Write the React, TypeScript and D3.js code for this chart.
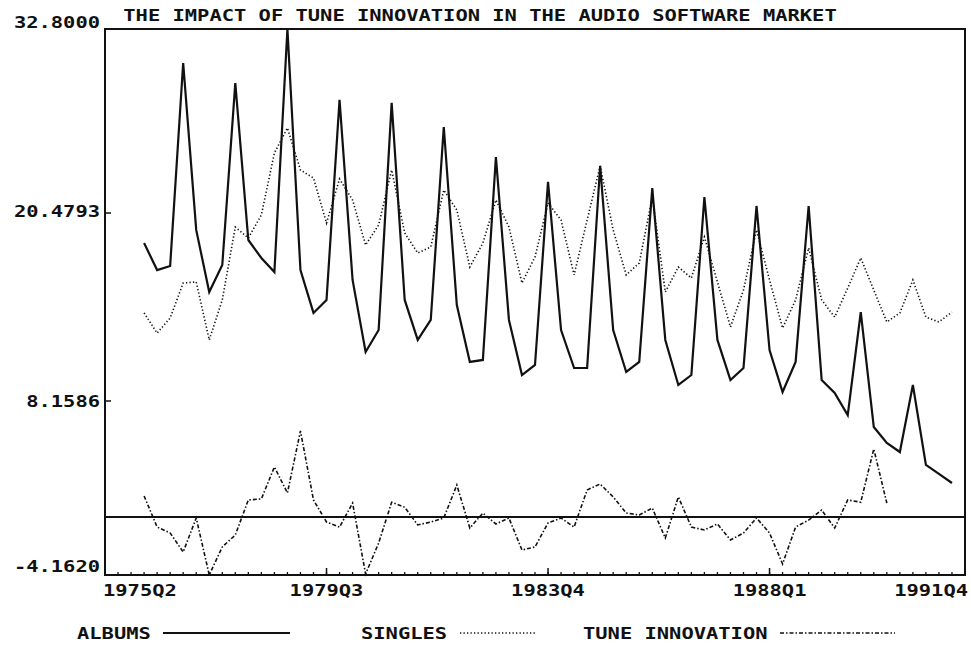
import React from "react";
import * as d3 from "d3";

const TITLE = "THE IMPACT OF TUNE INNOVATION IN THE AUDIO SOFTWARE MARKET";
const FIRST_QUARTER = "1975Q2";
const LAST_QUARTER = "1991Q4";
const SERIES_START = "1976Q1";
const xTickLabels = ["1975Q2", "1979Q3", "1983Q4", "1988Q1", "1991Q4"];
const yTickValues = [32.8, 20.4793, 8.1586, -4.162];
const yTickLabels = ["32.8000", "20.4793", "8.1586", "-4.1620"];
const legendLabels = ["ALBUMS", "SINGLES", "TUNE INNOVATION"];

// quarterly values starting at SERIES_START
const albums = [
  18.51, 16.74, 17.01, 30.52, 19.37, 15.3, 17.07, 29.18, 18.71, 17.53, 16.61, 32.8,
  16.74, 13.93, 14.78, 28.05, 16.09, 11.37, 12.81, 27.85, 14.78, 12.16, 13.47, 26.24,
  14.45, 10.72, 10.85, 24.23, 13.47, 9.86, 10.52, 22.56, 12.81, 10.32, 10.32, 23.63,
  12.81, 10.06, 10.72, 22.15, 12.16, 9.21, 9.86, 21.55, 12.16, 9.53, 10.32, 20.95,
  11.5, 8.75, 10.72, 20.95, 9.53, 8.69, 7.17, 13.99, 6.33, 5.21, 4.57, 9.21,
  3.66, 3.03, 2.39,
];
const singles = [
  13.93, 12.61, 13.6, 15.89, 15.96, 12.16, 14.78, 19.56, 18.84, 20.35, 24.5, 26.17,
  23.36, 22.82, 19.82, 22.76, 21.35, 18.38, 19.69, 23.36, 19.17, 17.86, 18.25, 22.02,
  20.68, 16.94, 18.51, 21.35, 19.56, 15.89, 17.6, 21.15, 20.02, 16.42, 20.02, 23.63,
  19.37, 16.42, 17.2, 21.55, 15.3, 16.94, 16.22, 18.91, 15.96, 13.01, 15.43, 19.37,
  16.09, 12.94, 14.78, 18.19, 14.78, 13.66, 15.56, 17.53, 15.43, 13.34, 13.93, 16.09,
  13.66, 13.34, 13.99,
];
const tuneInnovation = [
  1.48, -0.72, -1.15, -2.51, -0.07, -4.162, -2.15, -1.29, 1.2, 1.27, 3.52, 1.69,
  6.05, 1.2, -0.36, -0.72, 0.98, -4.09, -1.87, 1.04, 0.69, -0.57, -0.36, -0.07,
  2.25, -0.79, 0.28, -0.5, -0.07, -2.37, -2.15, -0.43, -0.07, -0.72, 1.9, 2.32,
  1.41, 0.28, 0.14, 0.63, -1.51, 1.41, -0.72, -0.93, -0.5, -1.65, -1.15, -0.07,
  -1.15, -3.37, -0.72, -0.22, 0.49, -0.79, 1.2, 1.04, 4.78, 0.98,
];

function qIndex(q: string): number {
  const yr = +q.slice(0, 4);
  const n = +q.slice(5);
  return yr * 4 + n - 1;
}

const FONT = "'DejaVu Sans Mono', 'Liberation Mono', monospace";
const CHAR_W = 12.3;

function Txt(props: { x: number; y: number; s: string; anchor?: string }) {
  const { x, y, s, anchor = "start" } = props;
  return (
    <text
      x={x}
      y={y}
      textAnchor={anchor}
      dominantBaseline="central"
      fontFamily={FONT}
      fontWeight="bold"
      fontSize={16}
      textLength={s.length * CHAR_W}
      lengthAdjust="spacingAndGlyphs"
      fill="#111"
    >
      {s}
    </text>
  );
}

export default function App() {
  const W = 971;
  const H = 645;
  const left = 105;
  const right = 965;
  const top = 29;
  const bottom = 575;

  const q0 = qIndex(FIRST_QUARTER);
  const nQ = qIndex(LAST_QUARTER) - q0;
  const start = qIndex(SERIES_START) - q0;

  const x = d3.scaleLinear().domain([0, nQ]).range([left, right]);
  const y = d3
    .scaleLinear()
    .domain([yTickValues[0], yTickValues[1], yTickValues[2], 0, yTickValues[3]])
    .range([top, 213, 401, 517, bottom]);

  const line = d3
    .line<number>()
    .x((_, i) => x(start + i))
    .y((d) => y(d));

  const minorTicks = d3.range(0, nQ + 1);
  const majorIdx = xTickLabels.map((l) => qIndex(l) - q0);
  const yLabelOffsets = [-7, -2, 0, -9];

  const blackDots = "1.3 2.2";
  const dashDot = "4 2 1.5 2";

  return (
    <svg
      width={W}
      height={H}
      style={{ position: "absolute", left: 0, top: 0, background: "#fff" }}
    >
      <rect x={0} y={0} width={W} height={H} fill="#fff" />
      <Txt x={480} y={15} s={TITLE} anchor="middle" />

      {/* frame */}
      <rect
        x={left}
        y={top}
        width={right - left}
        height={bottom - top}
        fill="none"
        stroke="#111"
        strokeWidth={2}
      />

      {/* x ticks */}
      {minorTicks.map((i) => (
        <line key={"mt" + i} x1={x(i)} x2={x(i)} y1={bottom} y2={bottom - 3} stroke="#111" strokeWidth={1.3} />
      ))}
      {majorIdx.map((i) => (
        <line key={"Mt" + i} x1={x(i)} x2={x(i)} y1={bottom} y2={bottom - 7} stroke="#111" strokeWidth={1.5} />
      ))}
      {xTickLabels.map((l, k) => {
        const w = l.length * CHAR_W;
        const cx = Math.min(Math.max(x(majorIdx[k]), left - 2 + w / 2), right + 3 - w / 2);
        return <Txt key={l} x={cx} y={590} s={l} anchor="middle" />;
      })}

      {/* y ticks */}
      {yTickValues.map((v, k) => (
        <g key={"yt" + k}>
          <line x1={left} x2={left + 6} y1={y(v)} y2={y(v)} stroke="#111" strokeWidth={1.5} />
          <Txt x={100} y={y(v) + yLabelOffsets[k]} s={yTickLabels[k]} anchor="end" />
        </g>
      ))}

      {/* zero line */}
      <line x1={left} x2={right} y1={y(0)} y2={y(0)} stroke="#111" strokeWidth={2} />

      {/* series */}
      <path d={line(singles) || ""} fill="none" stroke="#111" strokeWidth={1.6} strokeDasharray={blackDots} />
      <path d={line(tuneInnovation) || ""} fill="none" stroke="#111" strokeWidth={1.6} strokeDasharray={dashDot} />
      <path d={line(albums) || ""} fill="none" stroke="#111" strokeWidth={2.2} strokeLinejoin="miter" />

      {/* legend */}
      <Txt x={77} y={633} s={legendLabels[0]} />
      <line x1={163} x2={290} y1={633} y2={633} stroke="#111" strokeWidth={2} />
      <Txt x={361} y={633} s={legendLabels[1]} />
      <line x1={460} x2={537} y1={633} y2={633} stroke="#111" strokeWidth={1.5} strokeDasharray={blackDots} />
      <Txt x={583} y={633} s={legendLabels[2]} />
      <line x1={780} x2={895} y1={633} y2={633} stroke="#111" strokeWidth={1.5} strokeDasharray={dashDot} />
    </svg>
  );
}
